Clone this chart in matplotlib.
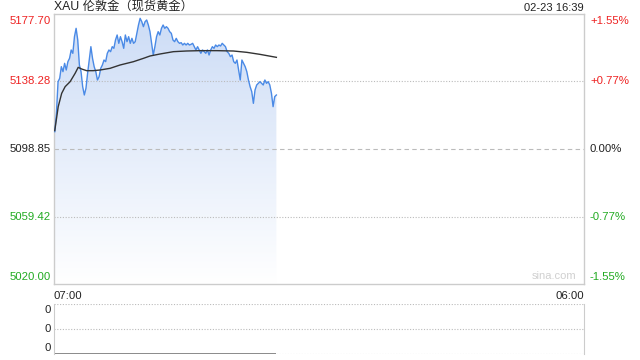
import numpy as np
import matplotlib
matplotlib.use("Agg")
import matplotlib.pyplot as plt
from matplotlib.patches import Polygon

plt.rcParams['font.family'] = ['Liberation Sans', 'Noto Sans CJK SC', 'DejaVu Sans']

title = "XAU 伦敦金（现货黄金）"
stamp = "02-23 16:39"
prev_close = 5098.85
y_ticks = [5177.70, 5138.28, 5098.85, 5059.42, 5020.00]
pct_labels = ["+1.55%", "+0.77%", "0.00%", "-0.77%", "-1.55%"]
x_labels = ["07:00", "06:00"]
session_minutes = 1380  # 07:00 -> 06:00 next day
first_min, last_min = 2, 579

prices = [
    5108.97, 5119.68, 5138.18, 5140.12, 5146.94, 5144.02, 5148.89, 5144.99, 5149.86, 5151.81,
    5156.68, 5154.73, 5164.46, 5169.33, 5162.52, 5147.91, 5144.02, 5135.26, 5130.39, 5134.28,
    5143.05, 5150.83, 5158.62, 5151.81, 5146.94, 5144.02, 5139.15, 5141.10, 5145.97, 5147.91,
    5150.83, 5149.86, 5154.73, 5156.68, 5155.70, 5158.62, 5157.65, 5162.52, 5165.44, 5160.57,
    5164.46, 5161.54, 5157.65, 5165.44, 5161.54, 5164.46, 5160.57, 5163.49, 5160.57, 5161.54,
    5166.41, 5171.28, 5175.17, 5173.22, 5170.30, 5173.22, 5174.20, 5171.28, 5167.38, 5160.57,
    5153.75, 5158.62, 5164.46, 5167.38, 5165.44, 5169.33, 5171.28, 5169.33, 5170.30, 5169.33,
    5167.38, 5166.41, 5162.52, 5161.54, 5163.49, 5161.54, 5160.57, 5160.96, 5159.60, 5160.57,
    5159.60, 5160.57, 5159.60, 5159.98, 5160.57, 5158.62, 5156.68, 5158.62, 5156.68, 5154.73,
    5156.68, 5155.70, 5154.73, 5156.68, 5153.75, 5156.68, 5158.62, 5157.65, 5159.60, 5158.62,
    5159.60, 5159.01, 5160.57, 5159.60, 5158.62, 5155.70, 5154.73, 5152.78, 5153.75, 5149.86,
    5148.89, 5150.83, 5144.99, 5139.15, 5150.83, 5148.89, 5146.94, 5144.02, 5139.15, 5135.26,
    5132.34, 5125.52, 5133.31, 5136.23, 5137.21, 5138.18, 5137.21, 5136.23, 5139.15, 5137.21,
    5138.18, 5136.23, 5131.36, 5123.57, 5129.42, 5130.39,
]

avg_minutes = [2, 11, 20, 29, 42, 55, 63, 72, 85, 102, 120, 146, 172, 207, 233, 250,
               276, 311, 345, 380, 424, 467, 502, 536, 579]
avg_prices = [5109.60, 5123.58, 5131.36, 5135.26, 5138.18, 5143.05, 5146.55, 5145.57, 5144.60,
              5144.60, 5144.99, 5145.97, 5147.91, 5149.86, 5151.81, 5153.17, 5154.34, 5155.70,
              5156.09, 5156.29, 5156.29, 5156.09, 5155.31, 5154.14, 5152.39]

volume = [0, 0]
vol_minutes = [first_min, last_min]
vol_labels = ["0", "0", "0"]

W, H = 640, 360
fig = plt.figure(figsize=(6.4, 3.6), dpi=100)

def px_axes(l, t, r, b):
    return fig.add_axes([l / W, 1 - b / H, (r - l) / W, (b - t) / H])

ax = px_axes(54, 14, 584, 284)
ymin, ymax = y_ticks[-1], y_ticks[0]
ax.set_xlim(0, session_minutes)
ax.set_ylim(ymin, ymax)

minutes = np.linspace(first_min, last_min, len(prices))
prices_arr = np.array(prices)

# gradient fill under price
grad = np.linspace(0, 1, 256).reshape(-1, 1)
top_c = np.array([204, 220, 246]) / 255
bot_c = np.array([255, 255, 255]) / 255
img = top_c * (1 - grad[..., None]) + bot_c * grad[..., None]
img = img.reshape(256, 1, 3)
im = ax.imshow(img, extent=[0, session_minutes, ymin, ymax], aspect='auto',
               origin='upper', zorder=1)
verts = np.vstack([[minutes[0], ymin], np.column_stack([minutes, prices_arr]),
                   [minutes[-1], ymin]])
poly = Polygon(verts, closed=True, facecolor='none', edgecolor='none')
ax.add_patch(poly)
im.set_clip_path(poly)

ax.plot(minutes, prices_arr, color='#4a8ae6', lw=1.0, zorder=3)
ax.plot(avg_minutes, avg_prices, color='#333333', lw=1.0, zorder=4)

# grid lines
ax.axhline(y_ticks[1], color='#bbbbbb', lw=0.8, ls=(0, (1, 1.5)), zorder=2)
ax.axhline(y_ticks[3], color='#bbbbbb', lw=0.8, ls=(0, (1, 1.5)), zorder=2)
ax.axhline(prev_close, color='#bbbbbb', lw=0.8, ls=(0, (4, 3)), zorder=2)

for s in ax.spines.values():
    s.set_color('#cccccc')
    s.set_linewidth(1.0)
ax.set_xticks([])
ax.set_yticks([])

colors = ['#ee2222', '#ee2222', '#222222', '#22aa22', '#22aa22']
vas = ['top', 'center', 'center', 'center', 'bottom']
for v, p, c, va in zip(y_ticks, pct_labels, colors, vas):
    off = {'top': -2, 'center': 0, 'bottom': 2}[va]
    ax.annotate(f"{v:.2f}", xy=(0, v), xycoords=('axes fraction', 'data'),
                xytext=(-3, off), textcoords='offset pixels', ha='right', va=va,
                fontsize=8.2, color=c)
    ax.annotate(p, xy=(1, v), xycoords=('axes fraction', 'data'),
                xytext=(6, off), textcoords='offset pixels', ha='left', va=va,
                fontsize=8.2, color=c)

fig.text(54 / W, 1 - 7.5 / H, title, ha='left', va='center', fontsize=8.8, color='#222222')
fig.text(584 / W, 1 - 8 / H, stamp, ha='right', va='center', fontsize=8, color='#222222')
ax.text(0.985, 0.012, "sina.com", transform=ax.transAxes, ha='right', va='bottom',
        fontsize=8, color='#d0d0d0')
ax.text(0, -0.025, x_labels[0], transform=ax.transAxes, ha='left', va='top',
        fontsize=8.2, color='#222222')
ax.text(1, -0.025, x_labels[1], transform=ax.transAxes, ha='right', va='top',
        fontsize=8.2, color='#222222')

# volume panel
vx = px_axes(54, 304, 584, 354)
vx.set_xlim(0, session_minutes)
vx.set_ylim(0, 1)
for lvl in (0, 0.5, 1):
    vx.axhline(lvl, color='#bbbbbb', lw=0.8, ls=(0, (1, 1.5)), zorder=1)
vx.plot(vol_minutes, volume, color='#777777', lw=1.2, zorder=3, solid_capstyle='butt')
vx.spines['top'].set_visible(False)
vx.spines['bottom'].set_visible(False)
for s in ('left', 'right'):
    vx.spines[s].set_color('#cccccc')
vx.set_xticks([])
vx.set_yticks([])
for lvl, lab, va in zip((1, 0.5, 0), vol_labels, ('top', 'center', 'bottom')):
    off = {'top': -1, 'center': 0, 'bottom': 1}[va]
    vx.annotate(lab, xy=(0, lvl), xycoords=('axes fraction', 'data'),
                xytext=(-3, off), textcoords='offset pixels', ha='right', va=va,
                fontsize=8.2, color='#222222')

fig.savefig("out.png", dpi=100)
